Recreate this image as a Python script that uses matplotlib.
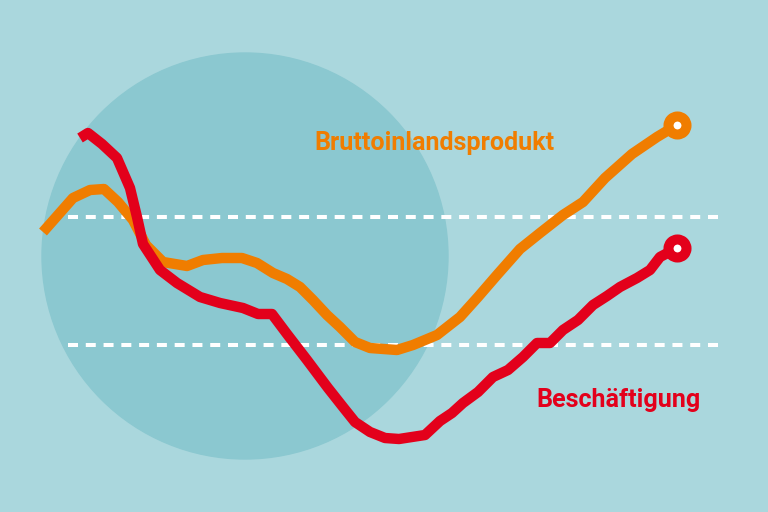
import matplotlib
matplotlib.use("Agg")
import matplotlib.pyplot as plt
from matplotlib.patches import Circle

# traced series, horizontal = time position, vertical = level (higher = up)
bip_t = [43, 73, 90, 104, 118, 133, 146, 163, 187, 203, 222, 242, 257, 273, 287,
         300, 313, 327, 340, 355, 370, 397, 413, 437, 460, 478, 497, 520, 540,
         563, 583, 605, 632, 657, 677]
bip_v = [280, 314, 322, 323, 310, 292, 267, 250, 246, 252, 254, 254, 249, 239, 233,
         225, 212, 197, 185, 170, 164, 162, 167, 177, 195, 215, 237, 263, 279,
         297, 310, 334, 358, 375, 387]

besch_t = [80, 88, 102, 117, 130, 137, 143, 160, 177, 200, 220, 243, 258, 272, 287,
           307, 328, 343, 355, 370, 385, 399, 425, 440, 452, 463, 478, 493, 508,
           523, 537, 550, 563, 578, 593, 607, 620, 637, 650, 660, 677]
besch_v = [374, 379, 368, 354, 324, 295, 268, 242, 229, 215, 209, 204, 198, 198, 178,
           152, 124, 105, 90, 80, 74, 73, 77, 91, 99, 109, 120, 135, 142,
           155, 169, 169, 182, 192, 207, 216, 225, 234, 242, 255, 264]

ref_levels = [295, 167]

BG = "#aad7dd"
DISC = "#8bc8d0"
ORANGE = "#f07d00"
RED = "#e3001b"

plt.rcParams["lines.scale_dashes"] = False
fig = plt.figure(figsize=(7.68, 5.12), dpi=100, facecolor=BG)
ax = fig.add_axes([0, 0, 1, 1])
ax.set_facecolor(BG)
ax.set_xlim(0, 768)
ax.set_ylim(0, 512)
ax.axis("off")

ax.add_patch(Circle((245, 256), 203, color=DISC, zorder=1))

for lvl in ref_levels:
    ax.plot([68, 722], [lvl, lvl], color="white", lw=2.9, dashes=(7.2, 5.6),
            solid_capstyle="butt", dash_capstyle="butt", zorder=2)

ax.plot(bip_t, bip_v, color=ORANGE, lw=7.5, solid_joinstyle="round",
        solid_capstyle="butt", zorder=3)
ax.plot(besch_t, besch_v, color=RED, lw=7.5, solid_joinstyle="round",
        solid_capstyle="butt", zorder=4)

ax.plot(bip_t[-1], bip_v[-1], "o", ms=13, mfc="white", mec=ORANGE, mew=7.2, zorder=5)
ax.plot(besch_t[-1], besch_v[-1], "o", ms=13, mfc="white", mec=RED, mew=7.2, zorder=5)

font = ["Roboto", "DejaVu Sans"]
t1 = ax.text(434, 369, "Bruttoinlandsprodukt", color=ORANGE, family=font,
             fontweight="bold", fontsize=19, ha="center", va="center", zorder=6)
t2 = ax.text(619, 112, "Beschäftigung", color=RED, family=font,
             fontweight="bold", fontsize=19, ha="center", va="center", zorder=6)

# fit label size to the width seen in the reference
fig.canvas.draw()
w = t1.get_window_extent(fig.canvas.get_renderer()).width
size = min(19 * 240 / w, 26)
t1.set_fontsize(size)
t2.set_fontsize(size)

fig.savefig("out.png", dpi=100, facecolor=BG)
